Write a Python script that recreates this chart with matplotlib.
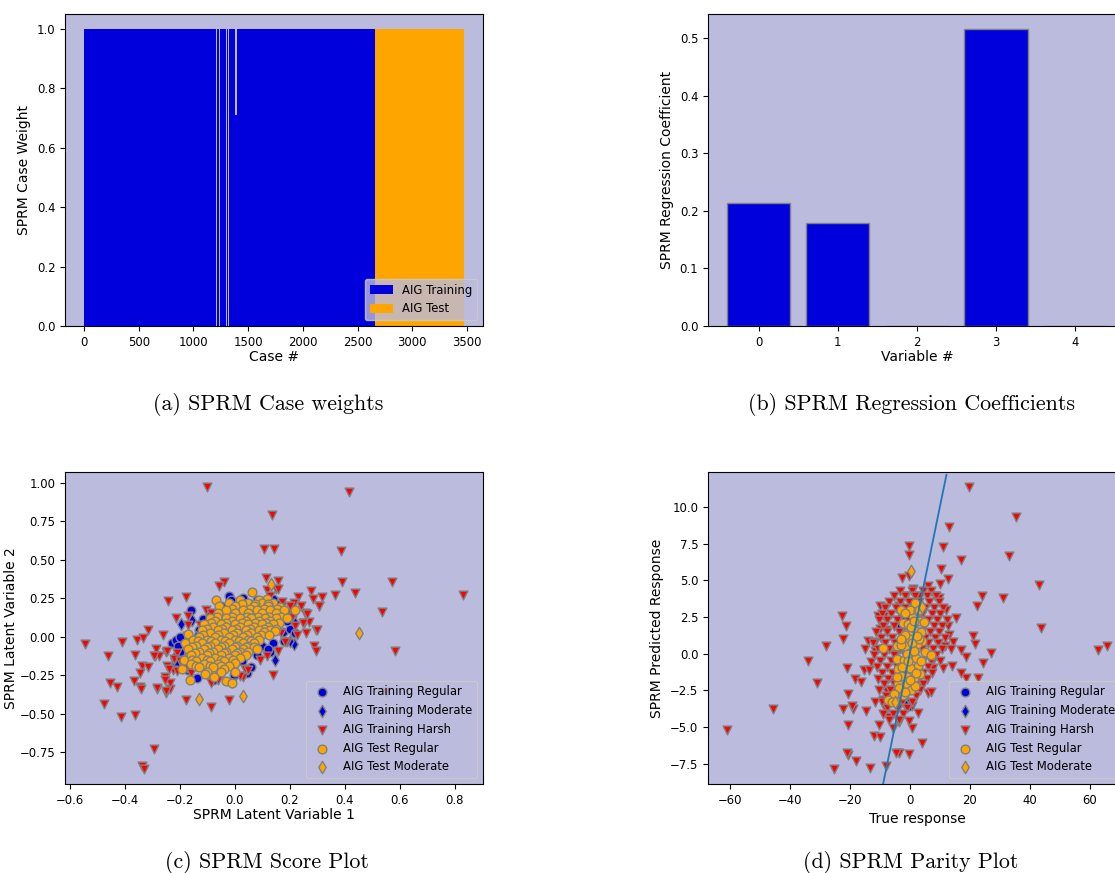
import numpy as np
import matplotlib
matplotlib.use("Agg")
import matplotlib.pyplot as plt

# --- (a) case weights -------------------------------------------------------
n_train = 2664
n_test = 809
# (first case, number of cases, weight) for training cases that were down-weighted
downweighted = [(1207, 10, 0.0), (1236, 10, 0.0), (1297, 10, 0.0), (1316, 10, 0.0), (1384, 10, 0.71)]

# --- (b) regression coefficients -------------------------------------------
variables = [0, 1, 2, 3, 4]
coefs = [0.214, 0.178, 0.0, 0.516, 0.0]

# --- (c) score plot ---------------------------------------------------------
c_train_regular = [
    (-0.158, 0.170), (-0.115, 0.114), (-0.120, 0.066), (-0.019, 0.266), (-0.012, 0.240),
    (-0.228, -0.042), (-0.215, -0.020), (-0.190, -0.060), (-0.174, -0.086), (-0.213, -0.173),
    (-0.137, -0.268), (-0.101, -0.238), (-0.052, -0.238), (-0.004, -0.249), (0.044, -0.238),
    (0.026, -0.162), (0.080, 0.240), (0.141, 0.244), (0.130, -0.103), (0.177, 0.027),
    (0.141, -0.043), (0.080, -0.120), (0.060, -0.200), (0.200, 0.050), (0.160, 0.200),
    (0.120, 0.200), (-0.050, 0.200), (-0.090, 0.140), (-0.150, -0.130), (-0.200, -0.100),
    (-0.170, -0.220), (-0.080, -0.280), (0.100, -0.060), (0.190, 0.100), (0.220, 0.020),
    (-0.200, 0.000), (-0.130, 0.040), (-0.160, -0.030), (0.030, 0.250), (0.170, 0.220),
    (0.120, -0.080), (0.180, -0.030), (-0.185, -0.150), (-0.205, -0.060), (0.210, 0.140),
]
c_train_moderate = [
    (-0.196, 0.079), (-0.155, 0.110), (0.220, 0.088), (0.214, -0.047), (0.146, -0.151),
    (-0.056, -0.238), (0.200, -0.030), (-0.140, 0.000), (-0.220, -0.140), (0.050, 0.150),
]
c_train_harsh = [
    (-0.101, 0.974), (0.416, 0.941), (0.137, 0.787), (0.107, 0.566), (0.143, 0.570),
    (0.387, 0.553), (0.113, 0.381), (0.159, 0.359), (-0.040, 0.353), (-0.058, 0.331),
    (0.117, 0.305), (0.151, 0.309), (0.573, 0.355), (0.390, 0.353), (0.277, 0.299),
    (0.436, 0.283), (0.366, 0.272), (0.316, 0.257), (0.286, 0.244), (0.829, 0.270),
    (0.306, 0.196), (0.534, 0.162), (-0.176, 0.257), (-0.242, 0.229), (-0.215, 0.123),
    (-0.169, 0.075), (-0.316, 0.044), (-0.260, 0.011), (0.296, 0.040), (0.259, 0.023),
    (0.583, -0.092), (0.290, -0.060), (0.295, -0.095), (-0.545, -0.047), (-0.410, -0.038),
    (-0.355, -0.020), (-0.333, -0.012), (-0.460, -0.129), (-0.361, -0.118), (-0.287, -0.081),
    (-0.249, -0.099), (-0.290, -0.129), (-0.276, -0.129), (-0.338, -0.194), (-0.315, -0.198),
    (-0.346, -0.238), (-0.455, -0.299), (-0.428, -0.325), (-0.367, -0.292), (-0.345, -0.325),
    (-0.341, -0.338), (-0.281, -0.340), (-0.476, -0.437), (-0.415, -0.520), (-0.364, -0.509),
    (-0.294, -0.733), (-0.337, -0.841), (-0.328, -0.861), (-0.249, -0.364), (-0.236, -0.342),
    (-0.234, -0.303), (-0.252, -0.260), (-0.246, -0.190), (-0.224, -0.216), (-0.176, -0.411),
    (-0.086, -0.459), (-0.022, -0.411), (0.032, -0.264), (-0.010, -0.299), (-0.086, -0.299),
    (0.139, -0.249), (0.159, -0.092), (0.192, -0.038), (0.220, 0.066), (0.253, 0.088),
    (0.269, 0.095), (0.256, 0.153), (0.232, 0.257), (0.214, 0.218), (0.171, 0.223),
    (0.190, 0.153), (0.165, 0.110), (-0.106, 0.175), (-0.086, 0.153), (-0.127, 0.077),
    (-0.168, 0.131), (-0.174, 0.001), (-0.210, -0.107), (-0.191, -0.151), (-0.145, -0.173),
    (-0.125, -0.134), (-0.174, -0.205), (-0.089, -0.216), (-0.004, -0.211), (0.038, -0.211),
    (0.020, -0.258), (0.092, -0.151), (0.117, -0.129), (0.129, 0.262), (0.156, 0.311),
    (0.308, 0.196), (0.262, 0.146), (0.250, 0.088), (0.298, 0.044), (0.226, 0.012),
    (0.184, -0.038), (-0.222, -0.147), (-0.240, -0.212), (-0.209, -0.227), (-0.252, -0.281),
    (-0.282, -0.336), (-0.248, -0.357), (-0.246, -0.097), (-0.292, -0.129), (0.549, -0.361),
    (0.20, 0.20), (0.18, 0.16), (0.21, 0.13), (0.24, 0.20), (0.15, 0.06), (0.17, 0.02),
    (-0.20, -0.16), (-0.16, -0.24), (-0.12, -0.20), (-0.06, -0.28), (0.05, -0.22),
]
c_test_regular = [
    (0.062, 0.288), (-0.067, 0.236), (0.020, 0.240), (0.119, 0.244), (0.090, 0.240),
    (-0.020, 0.220), (0.050, 0.220), (0.100, 0.220), (0.140, 0.220),
    (0.025, 0.210), (0.075, 0.210), (0.120, 0.210),
    (-0.056, 0.196), (0.000, 0.200), (0.070, 0.200), (0.120, 0.200), (0.165, 0.190),
    (-0.010, 0.180), (0.055, 0.180), (0.105, 0.180), (0.155, 0.180),
    (-0.030, 0.170), (0.030, 0.170), (0.080, 0.170), (0.130, 0.170), (0.220, 0.170), (0.180, 0.170),
    (-0.060, 0.150), (0.000, 0.150), (0.050, 0.150), (0.100, 0.150), (0.150, 0.150),
    (-0.065, 0.130), (-0.010, 0.130), (0.045, 0.130), (0.085, 0.130), (0.125, 0.130), (0.170, 0.130),
    (-0.090, 0.120), (-0.030, 0.120), (0.020, 0.120), (0.060, 0.120), (0.110, 0.120), (0.150, 0.120), (0.190, 0.120),
    (-0.070, 0.100), (-0.010, 0.100), (0.040, 0.100), (0.090, 0.100), (0.130, 0.100),
    (-0.085, 0.090), (-0.030, 0.090), (0.025, 0.090), (0.075, 0.090), (0.115, 0.090), (0.160, 0.090),
    (-0.110, 0.080), (-0.050, 0.080), (0.000, 0.080), (0.050, 0.080), (0.100, 0.080), (0.140, 0.080),
    (-0.080, 0.060), (-0.030, 0.060), (0.020, 0.060), (0.070, 0.060), (0.120, 0.060),
    (-0.100, 0.050), (-0.045, 0.050), (0.005, 0.050), (0.055, 0.050), (0.105, 0.050), (0.150, 0.050),
    (-0.120, 0.040), (-0.060, 0.040), (-0.010, 0.040), (0.040, 0.040), (0.090, 0.040), (0.130, 0.040),
    (-0.168, 0.019), (-0.090, 0.020), (-0.040, 0.020), (0.010, 0.020), (0.060, 0.020), (0.105, 0.030), (0.147, 0.034),
    (-0.115, 0.010), (-0.060, 0.010), (-0.005, 0.010), (0.045, 0.010), (0.095, 0.010), (0.125, 0.010),
    (-0.130, 0.000), (-0.070, 0.000), (-0.020, 0.000), (0.030, 0.000), (0.080, 0.000),
    (-0.150, -0.020), (-0.100, -0.020), (-0.050, -0.020), (0.000, -0.020), (0.050, -0.020), (0.090, -0.020),
    (-0.135, -0.030), (-0.085, -0.030), (-0.035, -0.030), (0.015, -0.030), (0.060, -0.030),
    (-0.180, -0.040), (-0.120, -0.040), (-0.070, -0.040), (-0.020, -0.040), (0.030, -0.040), (0.070, -0.040),
    (-0.140, -0.060), (-0.090, -0.060), (-0.040, -0.060), (0.010, -0.060), (0.050, -0.060),
    (-0.155, -0.070), (-0.100, -0.070), (-0.050, -0.070), (0.000, -0.070), (0.040, -0.070), (0.070, -0.070),
    (-0.170, -0.080), (-0.110, -0.080), (-0.060, -0.080), (-0.010, -0.080), (0.030, -0.080), (0.080, -0.080),
    (-0.130, -0.100), (-0.080, -0.100), (-0.030, -0.100), (0.020, -0.100), (0.050, -0.100),
    (-0.145, -0.110), (-0.095, -0.110), (-0.040, -0.110), (0.010, -0.110),
    (-0.160, -0.120), (-0.100, -0.120), (-0.050, -0.120), (0.000, -0.120), (0.040, -0.120),
    (-0.183, -0.151), (-0.120, -0.140), (-0.070, -0.140), (-0.020, -0.140), (0.020, -0.140),
    (-0.155, -0.150), (-0.100, -0.150), (-0.050, -0.150), (-0.005, -0.150),
    (-0.140, -0.160), (-0.090, -0.160), (-0.040, -0.160), (0.000, -0.170),
    (-0.160, -0.180), (-0.110, -0.180), (-0.060, -0.180), (-0.020, -0.190),
    (-0.140, -0.190), (-0.090, -0.190), (-0.050, -0.190),
    (-0.130, -0.200), (-0.080, -0.200), (-0.040, -0.210), (-0.190, -0.212),
    (-0.100, -0.230), (-0.050, -0.230), (0.000, -0.230),
    (-0.107, -0.244), (-0.077, -0.260), (-0.164, -0.281), (-0.033, -0.292), (-0.009, -0.299),
]
c_test_moderate = [(0.131, 0.342), (0.452, 0.023), (-0.128, -0.407), (0.032, -0.385)]

# --- (d) parity plot --------------------------------------------------------
d_train_regular = [
    (1.6, 3.09), (-2.7, 2.48), (-2.8, 1.86), (-5.9, -2.47), (-3.9, -2.81), (-1.3, -3.31),
    (0.5, 2.9), (-3.5, -1.5), (2.0, 1.0), (-5.0, -3.0), (-0.3, -3.6),
]
d_train_moderate = [(-4.5, -2.9), (-2.0, 2.6), (-1.2, -3.5)]
d_train_harsh = [
    (19.8, 11.38), (35.3, 9.33), (13.1, 8.63), (-0.2, 7.33), (-0.1, 6.76), (10.9, 7.29),
    (33.0, 6.65), (17.2, 6.42), (10.4, 5.78), (-2.6, 5.17), (-0.2, 5.28), (12.6, 5.10),
    (10.0, 4.78), (43.0, 4.67), (1.1, 4.41), (5.9, 4.64), (24.0, 3.91), (31.1, 3.80),
    (22.3, 3.23), (-22.7, 2.59), (-21.3, 1.86), (-22.2, 1.00), (-27.8, 0.50), (-33.9, -0.53),
    (-30.9, -2.01), (-45.4, -3.79), (-60.8, -5.20), (-25.1, -7.84), (-13.3, -7.82), (-18.0, -7.31),
    (-7.8, -7.66), (-20.6, -6.90), (-21.0, -6.75), (-12.0, -5.59), (-10.0, -5.66), (-10.2, -4.86),
    (-20.6, -4.86), (-22.2, -3.79), (-18.9, -3.79), (-19.3, -3.60), (-14.7, -3.88), (-20.6, -2.77),
    (-18.3, -1.74), (-20.8, -0.99), (-16.1, -1.96), (-15.2, -1.14), (-13.6, -1.14), (-12.8, -0.59),
    (-15.0, 0.31), (-13.9, 0.84), (-11.6, 0.77), (-10.6, 2.55), (-8.7, 2.55), (-9.8, 3.28),
    (-8.3, 3.12), (-3.7, 3.23), (-10.0, 1.70), (-8.0, 1.60), (-11.7, 0.16), (17.0, 0.27),
    (18.7, -0.25), (26.9, 0.04), (24.4, -0.64), (22.6, -1.69), (18.6, -1.67), (17.0, -1.32),
    (14.2, -0.87), (11.1, -1.01), (7.8, -0.98), (7.8, -0.41), (21.7, 0.66), (21.1, 1.23),
    (15.3, 2.43), (12.6, 1.91), (12.2, 3.00), (62.6, 0.27), (65.8, 0.50), (43.6, 1.75),
    (4.2, -6.11), (-0.2, -6.84), (-3.6, -6.80), (-4.7, -6.80), (0.9, -5.08), (-0.3, -4.59),
    (-3.7, -4.68), (2.6, -4.02), (0.9, -3.57), (6.1, -2.70), (6.9, -2.60), (3.9, -2.12),
    (-5.6, -5.08), (-6.9, -4.29), (-8.3, -3.72), (-8.9, -3.15), (-11.7, -3.31), (-7.8, -2.47),
    (-5.8, -1.8), (-4.7, 0.0), (-1.1, 3.91), (3.1, 3.91), (8.3, 3.96), (9.8, 3.80),
    (13.0, 1.29), (14.4, 0.77), (11.7, 0.5),
    (-3.1, 4.3), (0.8, 4.3), (4.4, 4.3), (7.2, 4.3),
    (-5.2, 3.9), (-1.7, 3.9), (1.9, 3.9), (5.6, 3.9), (8.7, 3.9),
    (-6.8, 3.5), (-3.3, 3.5), (-0.4, 3.5), (3.1, 3.5), (6.3, 3.5), (9.6, 3.5),
    (-8.1, 3.1), (-4.6, 3.1), (-1.5, 3.1), (2.4, 3.1), (5.2, 3.1), (8.1, 3.1), (11.2, 3.1),
    (-9.3, 2.7), (-6.2, 2.7), (-2.8, 2.7), (0.7, 2.7), (3.9, 2.7), (7.4, 2.7), (10.1, 2.7),
    (-10.4, 2.3), (-7.5, 2.3), (-4.1, 2.3), (-0.6, 2.3), (2.8, 2.3), (6.2, 2.3), (9.0, 2.3), (12.3, 2.3),
    (-8.9, 1.9), (-5.4, 1.9), (-2.0, 1.9), (1.6, 1.9), (4.7, 1.9), (7.9, 1.9), (10.8, 1.9),
    (-11.2, 1.5), (-7.6, 1.5), (-3.6, 1.5), (0.2, 1.5), (3.4, 1.5), (6.8, 1.5), (9.7, 1.5),
    (-9.7, 1.1), (-6.0, 1.1), (-2.4, 1.1), (1.3, 1.1), (4.9, 1.1), (8.4, 1.1), (11.6, 1.1),
    (-12.3, 0.7), (-8.2, 0.7), (-4.8, 0.7), (-1.1, 0.7), (2.6, 0.7), (6.1, 0.7), (9.3, 0.7),
    (-10.5, 0.3), (-6.9, 0.3), (-3.2, 0.3), (0.5, 0.3), (4.1, 0.3), (7.6, 0.3), (10.7, 0.3), (13.8, 0.3),
    (-11.8, -0.1), (-8.5, -0.1), (-5.1, -0.1), (-1.7, -0.1), (1.8, -0.1), (5.3, -0.1), (8.8, -0.1),
    (-9.8, -0.5), (-6.4, -0.5), (-2.9, -0.5), (0.7, -0.5), (3.6, -0.5), (7.0, -0.5), (10.2, -0.5),
    (-11.0, -0.9), (-7.7, -0.9), (-4.4, -0.9), (-0.9, -0.9), (2.5, -0.9), (5.9, -0.9),
    (-9.2, -1.3), (-5.8, -1.3), (-2.3, -1.3), (1.2, -1.3), (4.4, -1.3), (7.3, -1.3),
    (-10.6, -1.7), (-7.1, -1.7), (-3.7, -1.7), (-0.2, -1.7), (3.0, -1.7), (5.6, -1.7),
    (-8.6, -2.1), (-5.2, -2.1), (-1.6, -2.1), (1.9, -2.1), (4.5, -2.1),
    (-10.1, -2.5), (-6.6, -2.5), (-3.1, -2.5), (0.4, -2.5), (3.3, -2.5),
    (-8.0, -2.9), (-4.6, -2.9), (-1.2, -2.9), (2.1, -2.9),
    (-9.4, -3.3), (-6.1, -3.3), (-2.7, -3.3), (0.8, -3.3),
    (-7.5, -3.7), (-4.0, -3.7), (-0.8, -3.7),
    (-8.8, -4.1), (-5.6, -4.1), (-2.2, -4.1),
    (-6.9, -4.5), (-3.5, -4.5),
]
d_test_regular = [
    (1.8, 3.46), (1.0, 2.59), (-2.2, 2.09), (-0.7, 2.00), (3.3, 2.23), (4.7, 2.16),
    (1.9, 1.52), (-0.4, 1.27), (3.7, 1.50), (4.1, 0.86), (2.4, 0.66), (-1.7, 0.50),
    (-9.0, 0.39), (-4.4, 0.54), (4.9, 0.09), (7.2, -0.12), (-4.1, -0.35), (0.6, -0.03),
    (-1.8, -0.46), (1.1, -0.80), (2.7, -0.87), (-3.8, -1.05), (1.4, -1.26), (3.3, -1.40),
    (-1.0, -1.56), (1.4, -1.67), (-2.0, -1.89), (-3.9, -2.08), (-0.8, -2.06), (-3.6, -2.35),
    (0.3, -2.51), (-5.3, -2.76), (-7.2, -3.19), (-4.7, -3.31), (0.0, 1.0), (0.8, 0.7),
    (-1.0, 0.0), (2.0, -0.3), (-2.5, -0.9), (0.2, -1.0), (-1.5, 1.3), (3.0, 1.0),
    (-2.8, 3.0), (0.2, 3.0), (2.8, 2.9), (-3.0, 0.6), (-2.2, -2.8), (1.6, -2.2),
    (-1.5, 2.8), (0.5, 1.8), (2.5, 1.2), (-2.8, 1.0), (1.5, 0.2), (-0.5, -0.5),
    (3.8, -0.5), (-2.8, -1.5), (0.2, -1.8), (2.2, -1.3), (-1.5, -2.6), (-4.3, -1.6),
    (-5.8, -3.3), (1.3, 2.2), (3.2, 3.0),
]
d_test_moderate = [(0.4, 5.64), (4.2, 3.16), (-4.8, -3.31)]

# ---------------------------------------------------------------------------
bg = "#bbbbdd"
blue = "#0000dd"
tick_fs = 8.4
label_fs = 10
plt.rcParams["axes.facecolor"] = bg  # legend face inherits this

fig = plt.figure(figsize=(11.15, 8.73), dpi=100)
W, H = 1115, 873


def make_ax(left, top):
    ax = fig.add_axes([left / W, 1 - (top + 312) / H, 418 / W, 312 / H])
    ax.tick_params(labelsize=tick_fs)
    return ax


ax_a = make_ax(65, 14)
ax_b = make_ax(708, 14)
ax_c = make_ax(65, 472)
ax_d = make_ax(708, 472)

# (a) weights, drawn as runs of equal weight
weights = np.ones(n_train + n_test)
for start, length, w in downweighted:
    weights[start:start + length] = w
group = np.r_[np.zeros(n_train), np.ones(n_test)]
change = np.flatnonzero((np.diff(weights) != 0) | (np.diff(group) != 0)) + 1
starts = np.r_[0, change]
ends = np.r_[change, len(weights)]
is_train = group[starts] == 0
ax_a.bar(starts[is_train] - 0.5, weights[starts[is_train]], width=(ends - starts)[is_train],
         align="edge", color=blue, linewidth=0, label="AIG Training")
ax_a.bar(starts[~is_train] - 0.5, weights[starts[~is_train]], width=(ends - starts)[~is_train],
         align="edge", color="orange", linewidth=0, label="AIG Test")
ax_a.set_xlabel("Case #", fontsize=label_fs, labelpad=1)
ax_a.set_ylabel("SPRM Case Weight", fontsize=label_fs)
ax_a.legend(loc="lower right", fontsize=tick_fs)

# (b) coefficients
ax_b.bar(variables, coefs, color=blue, edgecolor="grey", linewidth=1)
ax_b.set_xlabel("Variable #", fontsize=label_fs, labelpad=1)
ax_b.set_ylabel("SPRM Regression Coefficient", fontsize=label_fs)


def scatter_groups(ax, groups):
    for pts, marker, color, label in groups:
        pts = np.array(pts)
        ax.scatter(pts[:, 0], pts[:, 1], marker=marker, s=40, c=color,
                   edgecolors="grey", linewidths=1, label=label)
    ax.legend(loc="lower right", fontsize=tick_fs)


scatter_groups(ax_c, [
    (c_train_regular, "o", blue, "AIG Training Regular"),
    (c_train_moderate, "d", blue, "AIG Training Moderate"),
    (c_train_harsh, "v", "red", "AIG Training Harsh"),
    (c_test_regular, "o", "orange", "AIG Test Regular"),
    (c_test_moderate, "d", "orange", "AIG Test Moderate"),
])
ax_c.set_xlim(-0.617, 0.903)
ax_c.set_ylim(-0.958, 1.069)
ax_c.set_xlabel("SPRM Latent Variable 1", fontsize=label_fs, labelpad=1)
ax_c.set_ylabel("SPRM Latent Variable 2", fontsize=label_fs, labelpad=1)

scatter_groups(ax_d, [
    (d_train_regular, "o", blue, "AIG Training Regular"),
    (d_train_moderate, "d", blue, "AIG Training Moderate"),
    (d_train_harsh, "v", "red", "AIG Training Harsh"),
    (d_test_regular, "o", "orange", "AIG Test Regular"),
    (d_test_moderate, "d", "orange", "AIG Test Moderate"),
])
parity = [-12, 12.2]
ax_d.plot(parity, parity, color="C0", linewidth=1.3)
ax_d.set_xlim(-67.2, 72)
ax_d.set_ylim(-8.89, 12.39)
ax_d.set_xlabel("True response", fontsize=label_fs, labelpad=4)
ax_d.set_ylabel("SPRM Predicted Response", fontsize=label_fs)

# captions
cap = dict(fontfamily="cmr10", fontsize=15.8, ha="center", va="center")
fig.text(268 / W, 1 - 404 / H, "(a) SPRM Case weights", **cap)
fig.text(911 / W, 1 - 404 / H, "(b) SPRM Regression Coefficients", **cap)
fig.text(267 / W, 1 - 862 / H, "(c) SPRM Score Plot", **cap)
fig.text(911 / W, 1 - 862 / H, "(d) SPRM Parity Plot", **cap)

fig.savefig("out.png", dpi=100)
